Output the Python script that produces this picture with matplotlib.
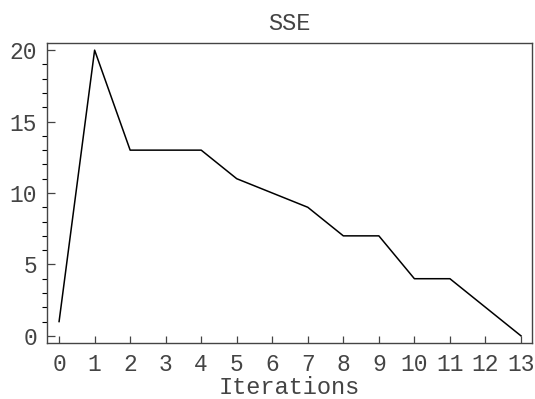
import matplotlib
matplotlib.use("Agg")
import matplotlib.pyplot as plt
from matplotlib.ticker import MultipleLocator

iterations = [0, 1, 2, 3, 4, 5, 6, 7, 8, 9, 10, 11, 12, 13]
sse = [1, 20, 13, 13, 13, 11, 10, 9, 7, 7, 4, 4, 2, 0]

plt.rcParams['font.family'] = ['Liberation Mono', 'DejaVu Sans Mono']

fig = plt.figure(figsize=(5.35, 3.99), dpi=100)
ax = fig.add_axes([47 / 535, 1 - 343 / 399, (532 - 47) / 535, (343 - 43) / 399])

ax.plot(iterations, sse, color='black', linewidth=1.1)

ax.set_xlim(-0.34, 13.31)
ax.set_ylim(-0.5, 20.5)
ax.set_xticks(iterations)
ax.yaxis.set_major_locator(MultipleLocator(5))
ax.yaxis.set_minor_locator(MultipleLocator(1))

# thin grey text to stay close to a light courier look
ax.tick_params(direction='in', labelsize=16.5, colors='#444444', labelcolor='#444444')
ax.tick_params(axis='x', which='major', length=5, width=0.9, pad=7)
ax.tick_params(axis='y', which='major', length=6, width=0.9, pad=7)
ax.tick_params(axis='y', which='minor', length=3.5, width=0.8)
for s in ax.spines.values():
    s.set_color('#444444')
    s.set_linewidth(1.0)

ax.set_title('SSE', fontsize=17, color='#444444', pad=9)
ax.set_xlabel('Iterations', fontsize=17, color='#444444', labelpad=0)

fig.savefig('out.png', dpi=100)
